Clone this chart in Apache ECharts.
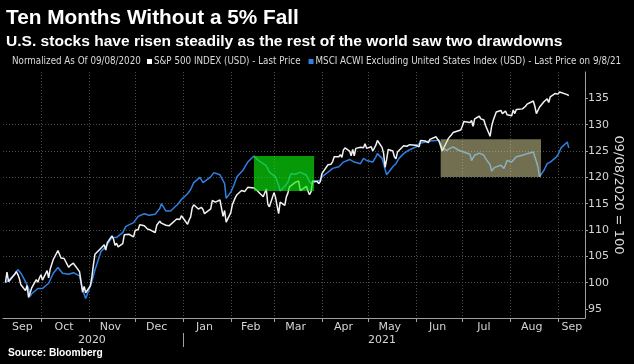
<!DOCTYPE html>
<html><head><meta charset="utf-8">
<script src="https://cdn.jsdelivr.net/npm/echarts@6/dist/echarts.min.js"></script>
<style>html,body{margin:0;padding:0;background:#000;}#c{width:634px;height:364px;}</style>
</head><body><div id="c"></div>
<script>
const titleText = 'Ten Months Without a 5% Fall';
const subtitleText = 'U.S. stocks have risen steadily as the rest of the world saw two drawdowns';
const noteText = 'Normalized As Of 09/08/2020';
const seriesNames = ['S&P 500 INDEX (USD) - Last Price', 'MSCI ACWI Excluding United States Index (USD) - Last Price on 9/8/21'];
const sourceText = 'Source: Bloomberg';
const axisName = '09/08/2020 = 100';

const spxDates = ['2020-09-08','2020-09-09','2020-09-10','2020-09-11','2020-09-14','2020-09-15','2020-09-16','2020-09-17','2020-09-18','2020-09-21','2020-09-22','2020-09-23','2020-09-24','2020-09-25','2020-09-28','2020-09-29','2020-09-30','2020-10-01','2020-10-02','2020-10-05','2020-10-06','2020-10-07','2020-10-08','2020-10-09','2020-10-12','2020-10-13','2020-10-14','2020-10-15','2020-10-16','2020-10-19','2020-10-20','2020-10-21','2020-10-22','2020-10-23','2020-10-26','2020-10-27','2020-10-28','2020-10-29','2020-10-30','2020-11-02','2020-11-03','2020-11-04','2020-11-05','2020-11-06','2020-11-09','2020-11-10','2020-11-11','2020-11-12','2020-11-13','2020-11-16','2020-11-17','2020-11-18','2020-11-19','2020-11-20','2020-11-23','2020-11-24','2020-11-25','2020-11-27','2020-11-30','2020-12-01','2020-12-02','2020-12-03','2020-12-04','2020-12-07','2020-12-08','2020-12-09','2020-12-10','2020-12-11','2020-12-14','2020-12-15','2020-12-16','2020-12-17','2020-12-18','2020-12-21','2020-12-22','2020-12-23','2020-12-24','2020-12-28','2020-12-29','2020-12-30','2020-12-31','2021-01-04','2021-01-05','2021-01-06','2021-01-07','2021-01-08','2021-01-11','2021-01-12','2021-01-13','2021-01-14','2021-01-15','2021-01-19','2021-01-20','2021-01-21','2021-01-22','2021-01-25','2021-01-26','2021-01-27','2021-01-28','2021-01-29','2021-02-01','2021-02-02','2021-02-03','2021-02-04','2021-02-05','2021-02-08','2021-02-09','2021-02-10','2021-02-11','2021-02-12','2021-02-16','2021-02-17','2021-02-18','2021-02-19','2021-02-22','2021-02-23','2021-02-24','2021-02-25','2021-02-26','2021-03-01','2021-03-02','2021-03-03','2021-03-04','2021-03-05','2021-03-08','2021-03-09','2021-03-10','2021-03-11','2021-03-12','2021-03-15','2021-03-16','2021-03-17','2021-03-18','2021-03-19','2021-03-22','2021-03-23','2021-03-24','2021-03-25','2021-03-26','2021-03-29','2021-03-30','2021-03-31','2021-04-01','2021-04-05','2021-04-06','2021-04-07','2021-04-08','2021-04-09','2021-04-12','2021-04-13','2021-04-14','2021-04-15','2021-04-16','2021-04-19','2021-04-20','2021-04-21','2021-04-22','2021-04-23','2021-04-26','2021-04-27','2021-04-28','2021-04-29','2021-04-30','2021-05-03','2021-05-04','2021-05-05','2021-05-06','2021-05-07','2021-05-10','2021-05-11','2021-05-12','2021-05-13','2021-05-14','2021-05-17','2021-05-18','2021-05-19','2021-05-20','2021-05-21','2021-05-24','2021-05-25','2021-05-26','2021-05-27','2021-05-28','2021-06-01','2021-06-02','2021-06-03','2021-06-04','2021-06-07','2021-06-08','2021-06-09','2021-06-10','2021-06-11','2021-06-14','2021-06-15','2021-06-16','2021-06-17','2021-06-18','2021-06-21','2021-06-22','2021-06-23','2021-06-24','2021-06-25','2021-06-28','2021-06-29','2021-06-30','2021-07-01','2021-07-02','2021-07-06','2021-07-07','2021-07-08','2021-07-09','2021-07-12','2021-07-13','2021-07-14','2021-07-15','2021-07-16','2021-07-19','2021-07-20','2021-07-21','2021-07-22','2021-07-23','2021-07-26','2021-07-27','2021-07-28','2021-07-29','2021-07-30','2021-08-02','2021-08-03','2021-08-04','2021-08-05','2021-08-06','2021-08-09','2021-08-10','2021-08-11','2021-08-12','2021-08-13','2021-08-16','2021-08-17','2021-08-18','2021-08-19','2021-08-20','2021-08-23','2021-08-24','2021-08-25','2021-08-26','2021-08-27','2021-08-30','2021-08-31','2021-09-01','2021-09-02','2021-09-03','2021-09-07','2021-09-08'];
const spxValues = [100.0,102.0,100.2,100.3,101.6,102.1,101.6,100.8,99.6,98.5,99.5,97.2,97.4,99.0,100.6,100.1,100.9,101.5,100.5,102.3,100.9,102.6,103.5,104.4,106.1,105.4,104.7,104.5,104.6,102.9,103.3,103.1,103.7,104.0,102.1,101.8,98.2,99.3,98.1,99.4,101.1,103.4,105.4,105.3,106.6,106.4,107.2,106.2,107.6,108.9,108.3,107.1,107.5,106.8,107.4,109.1,108.9,109.2,108.7,109.9,110.1,110.1,111.0,110.8,111.1,110.2,110.1,110.0,109.5,110.9,111.1,111.7,111.3,110.9,110.7,110.8,111.1,112.1,111.9,112.0,112.7,111.1,111.9,112.5,114.2,114.8,114.0,114.1,114.3,113.9,113.1,114.0,115.6,115.6,115.3,115.7,115.5,112.6,113.7,111.5,113.3,114.8,115.0,116.2,116.7,117.5,117.4,117.3,117.5,118.1,118.0,118.0,117.5,117.3,116.3,116.5,117.8,114.9,114.4,117.1,116.2,114.6,113.1,115.3,114.7,116.3,117.0,118.2,118.4,119.1,118.9,119.3,117.5,117.4,118.3,117.4,116.7,117.3,119.3,119.2,118.8,119.2,120.7,122.4,122.3,122.5,123.0,123.9,123.9,124.3,123.8,125.2,125.6,125.0,124.1,125.3,124.1,125.5,125.7,125.7,125.6,126.4,125.5,125.8,125.0,125.1,126.1,127.0,125.7,124.6,121.9,123.4,125.3,125.0,123.9,123.5,124.8,124.7,126.0,125.7,125.9,126.1,126.2,126.1,126.3,125.8,127.0,126.9,126.9,126.6,127.2,127.5,127.7,127.5,126.8,126.7,125.0,126.8,127.4,127.3,128.1,128.5,128.8,128.8,129.0,129.7,130.6,130.4,130.8,129.7,131.1,131.6,131.1,131.3,130.9,129.9,127.8,129.7,130.8,131.1,132.4,132.7,132.1,132.1,132.6,131.9,131.7,132.8,132.1,132.9,133.2,133.0,133.2,133.5,133.9,134.1,134.5,133.5,132.1,132.2,133.3,134.4,134.6,134.9,134.2,135.3,135.9,135.7,135.8,136.2,136.1,135.7,135.5];

const acwxDates = ['2020-09-08','2020-09-10','2020-09-11','2020-09-14','2020-09-16','2020-09-18','2020-09-21','2020-09-23','2020-09-24','2020-09-25','2020-09-29','2020-10-02','2020-10-06','2020-10-09','2020-10-12','2020-10-15','2020-10-19','2020-10-22','2020-10-26','2020-10-28','2020-10-30','2020-11-03','2020-11-05','2020-11-09','2020-11-12','2020-11-16','2020-11-19','2020-11-23','2020-11-25','2020-11-30','2020-12-03','2020-12-07','2020-12-10','2020-12-14','2020-12-17','2020-12-18','2020-12-21','2020-12-24','2020-12-29','2020-12-31','2021-01-04','2021-01-06','2021-01-08','2021-01-12','2021-01-14','2021-01-19','2021-01-21','2021-01-25','2021-01-28','2021-01-29','2021-02-01','2021-02-03','2021-02-05','2021-02-09','2021-02-12','2021-02-16','2021-02-19','2021-02-22','2021-02-24','2021-02-26','2021-03-02','2021-03-04','2021-03-05','2021-03-08','2021-03-10','2021-03-12','2021-03-15','2021-03-18','2021-03-22','2021-03-24','2021-03-25','2021-03-26','2021-03-29','2021-03-31','2021-04-01','2021-04-05','2021-04-08','2021-04-12','2021-04-15','2021-04-16','2021-04-19','2021-04-22','2021-04-26','2021-04-28','2021-04-30','2021-05-04','2021-05-06','2021-05-07','2021-05-10','2021-05-11','2021-05-12','2021-05-13','2021-05-17','2021-05-19','2021-05-21','2021-05-24','2021-05-27','2021-06-01','2021-06-03','2021-06-07','2021-06-10','2021-06-14','2021-06-16','2021-06-17','2021-06-18','2021-06-21','2021-06-23','2021-06-25','2021-06-29','2021-07-02','2021-07-06','2021-07-07','2021-07-09','2021-07-12','2021-07-15','2021-07-16','2021-07-19','2021-07-20','2021-07-22','2021-07-26','2021-07-28','2021-07-30','2021-08-02','2021-08-05','2021-08-09','2021-08-12','2021-08-16','2021-08-17','2021-08-18','2021-08-19','2021-08-20','2021-08-23','2021-08-25','2021-08-27','2021-08-31','2021-09-01','2021-09-02','2021-09-03','2021-09-07','2021-09-08'];
const acwxValues = [100.0,100.4,100.5,101.6,102.5,101.8,100.2,98.9,97.4,97.9,98.9,98.9,99.9,101.8,102.9,101.8,101.6,101.9,101.3,98.6,97.0,100.2,102.4,106.0,106.8,108.6,108.6,109.5,110.7,111.4,112.6,113.1,112.8,113.0,114.1,115.0,113.6,113.6,115.0,115.8,116.9,117.7,119.0,120.0,119.0,120.1,120.9,120.5,118.8,116.0,117.2,118.5,120.1,121.4,122.9,124.05,123.2,122.6,122.2,121.0,120.1,118.5,117.4,118.3,119.1,120.7,120.6,121.0,120.4,119.2,118.8,119.0,119.3,119.5,120.1,121.0,121.7,122.0,122.9,122.6,123.4,122.9,122.6,123.6,123.2,122.9,123.9,124.5,123.6,122.6,121.5,120.5,122.0,122.6,123.6,124.5,125.1,125.8,126.4,126.7,126.9,127.0,127.1,127.23,125.6,125.1,125.5,125.8,125.1,124.8,124.4,123.2,124.2,124.6,124.2,123.6,122.4,121.2,121.9,122.3,121.7,123.2,122.9,123.9,124.2,124.5,124.8,123.9,123.0,122.0,120.08,121.4,122.6,122.9,123.9,124.3,124.9,125.6,126.7,125.6];

const greenBox = { from: '2021-02-16', to: '2021-03-27', low: 117.4, high: 124.05 };
const yellowBox = { from: '2021-06-17', to: '2021-08-21', low: 120.08, high: 127.23 };

const monthTicks = ['2020-10-01','2020-11-01','2020-12-01','2021-01-01','2021-02-01','2021-03-01','2021-04-01','2021-05-01','2021-06-01','2021-07-01','2021-08-01','2021-09-01'];
const monthLabelDates = ['2020-09-19','2020-10-16','2020-11-15','2020-12-15','2021-01-15','2021-02-14','2021-03-15','2021-04-15','2021-05-15','2021-06-15','2021-07-15','2021-08-15','2021-09-10'];
const monthLabels = ['Sep','Oct','Nov','Dec','Jan','Feb','Mar','Apr','May','Jun','Jul','Aug','Sep'];
const yearLabelDates = ['2020-11-03','2021-05-10'];
const yearLabels = ['2020','2021'];
const yearBoundaries = ['2021-01-01'];
const yTicks = [95,100,105,110,115,120,125,130,135];
const xRange = ['2020-09-06 10:00','2021-09-18 12:00'];
const yRange = [93.3, 140];

function ts(s){
  const [d, t] = s.split(' ');
  const [y,m,dd] = d.split('-').map(Number);
  let h = 0, mi = 0;
  if (t) { [h, mi] = t.split(':').map(Number); }
  return Date.UTC(y, m-1, dd, h, mi);
}
const ctx = document.createElement('canvas').getContext('2d');
function tw(text, font){ ctx.font = font; return ctx.measureText(text).width; }
function has(fam){ const t='MSCI ACWI Excluding 0123 abc'; return Math.abs(tw(t,'40px "'+fam+'", monospace') - tw(t,'40px monospace'))>0.5; }
function fit(text, weight, fam, target){ return 100*target/tw(text, weight+' 100px '+fam); }

const boldFam = "'Liberation Sans'";
const legFam = has('Liberation Sans Narrow') ? "'Liberation Sans Narrow'" : (has('DejaVu Sans Condensed') ? "'DejaVu Sans Condensed'" : "'Liberation Sans'");
const tSize = fit(titleText, 'bold', boldFam, 293);
const sSize = fit(subtitleText, 'bold', boldFam, 557);
const lSize = fit(seriesNames[1], 'normal', legFam, 306);
const srcSize = fit(sourceText, 'bold', boldFam, 95);

function titleAt(text, left, cy, size, weight, color, fam){
  const lh = Math.round(size*1.2);
  return { text, left, top: cy - lh/2, padding: 0,
    textStyle: { color, fontSize: size, fontWeight: weight, fontFamily: fam, lineHeight: lh } };
}

const monthMap = {}; monthLabelDates.forEach((d,i)=>{ monthMap[ts(d)] = monthLabels[i]; });
const yearMap = {}; yearLabelDates.forEach((d,i)=>{ yearMap[ts(d)] = yearLabels[i]; });

const spxData = spxDates.map((d,i)=>[ts(d), spxValues[i]]);
const acwxData = acwxDates.map((d,i)=>[ts(d), acwxValues[i]]);

const gridCol = '#4b4b4b';
const axisCol = '#a0a0a0';
const labCol = '#d4d4d4';
const xMin = ts(xRange[0]), xMax = ts(xRange[1]);
const lh = Math.round(lSize*1.2);

const chart = echarts.init(document.getElementById('c'), null, {renderer:'canvas'});
chart.setOption({
  backgroundColor: '#000',
  animation: false,
  title: [
    titleAt(titleText, 6, 18, tSize, 'bold', '#ffffff', boldFam),
    titleAt(subtitleText, 6, 42, sSize, 'bold', '#ffffff', boldFam),
    titleAt(noteText, 12, 61.5, lSize, 'normal', '#dcdcdc', legFam),
    titleAt(sourceText, 8, 353.5, srcSize, 'bold', '#ffffff', boldFam)
  ],
  legend: {
    left: 147, top: 61.5 - lh/2, padding: 0, itemWidth: 5, itemHeight: 5, itemGap: 8, icon: 'rect',
    textStyle: { color: '#dcdcdc', fontFamily: legFam, fontSize: lSize, lineHeight: lh, padding: [0,0,0,-3] },
    data: [ { name: seriesNames[0], itemStyle: { color: '#ffffff' } }, { name: seriesNames[1], itemStyle: { color: '#2f80e0' } } ],
    selectedMode: false
  },
  grid: { left: 3, right: 49, top: 72, bottom: 46, containLabel: false, outerBoundsMode: 'none' },
  xAxis: [
    {
      type: 'value', min: xMin, max: xMax, scale: true,
      axisLine: { show: true, lineStyle: { color: axisCol, width: 1 } },
      axisTick: { show: true, customValues: monthTicks.map(ts), length: 4, lineStyle: { color: axisCol } },
      axisLabel: { show: true, customValues: monthLabelDates.map(ts), formatter: v => monthMap[v] || '', color: labCol, fontSize: 11, fontFamily: 'DejaVu Sans', margin: 4 },
      splitLine: { show: true, lineStyle: { color: gridCol, width: 1, type: [1,2] } }
    },
    {
      type: 'value', min: xMin, max: xMax, scale: true, position: 'bottom', offset: 15,
      axisLine: { show: false },
      axisTick: { show: true, customValues: yearBoundaries.map(ts), length: 14, lineStyle: { color: axisCol } },
      axisLabel: { show: true, customValues: yearLabelDates.map(ts), formatter: v => yearMap[v] || '', color: labCol, fontSize: 11, fontFamily: 'DejaVu Sans', margin: 2 },
      splitLine: { show: false }
    }
  ],
  yAxis: {
    type: 'value', position: 'right', min: yRange[0], max: yRange[1],
    axisLine: { show: true, lineStyle: { color: axisCol, width: 1 } },
    axisTick: { show: true, customValues: yTicks, length: 3, lineStyle: { color: axisCol } },
    axisLabel: { show: true, customValues: yTicks, color: labCol, fontSize: 11, fontFamily: 'DejaVu Sans', margin: 3 },
    splitLine: { show: true, showMinLine: false, showMaxLine: false, lineStyle: { color: gridCol, width: 1, type: [1,2] } },
    name: axisName, nameLocation: 'middle', nameRotate: -90, nameGap: 27, nameMoveOverlap: false,
    nameTextStyle: { color: '#dcdcdc', fontSize: 13, fontFamily: 'DejaVu Sans' }
  },
  series: [
    {
      name: seriesNames[1], type: 'line', data: acwxData, symbol: 'none', showSymbol: false,
      lineStyle: { color: '#2f80e0', width: 1.5 }, itemStyle: { color: '#2f80e0' }, z: 2,
      markArea: {
        silent: true, z: 5, label: { show: false },
        data: [
          [ { xAxis: ts(greenBox.from), yAxis: greenBox.high, itemStyle: { color: 'rgba(10,235,10,0.65)' } }, { xAxis: ts(greenBox.to), yAxis: greenBox.low } ],
          [ { xAxis: ts(yellowBox.from), yAxis: yellowBox.high, itemStyle: { color: 'rgba(228,222,160,0.5)' } }, { xAxis: ts(yellowBox.to), yAxis: yellowBox.low } ]
        ]
      }
    },
    {
      name: seriesNames[0], type: 'line', data: spxData, symbol: 'none', showSymbol: false,
      lineStyle: { color: '#f2f2f2', width: 1.5 }, itemStyle: { color: '#ffffff' }, z: 3
    }
  ]
});
</script></body></html>
